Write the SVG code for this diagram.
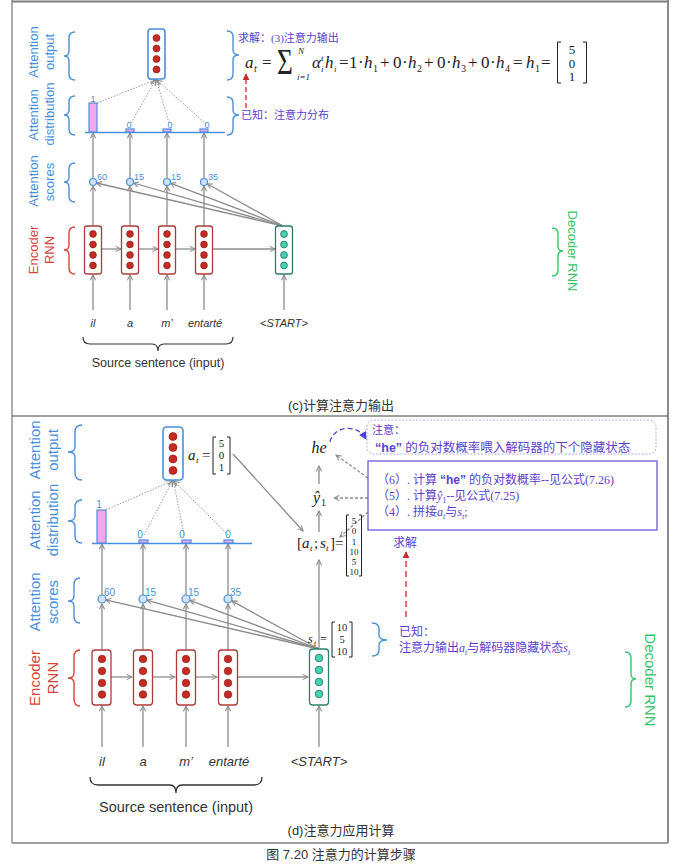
<svg xmlns="http://www.w3.org/2000/svg" width="695" height="865" viewBox="0 0 695 865">
<defs>
<style>
.lbl{font-family:"Liberation Sans","Open Sans",sans-serif;fill:#4a8fdc}
.red{fill:#d8443a}
.grn{fill:#36c46a}
.brB{fill:none;stroke:#4a8fdc;stroke-width:1.4}
.brR{fill:none;stroke:#d8443a;stroke-width:1.4}
.brG{fill:none;stroke:#36c46a;stroke-width:1.4}
.ar{fill:none;stroke:#8c8c8c;stroke-width:1.3;marker-end:url(#ah)}
.dot{fill:none;stroke:#9a9a9a;stroke-width:1;stroke-dasharray:1.5 1.5;marker-end:url(#ah)}
.gd{fill:none;stroke:#8c8c8c;stroke-width:1.3;stroke-dasharray:3 2;marker-end:url(#ah)}
.enc{fill:#fff;stroke:#b03a3a;stroke-width:1.3}
.dec{fill:#fff;stroke:#2e7d6c;stroke-width:1.3}
.outb{fill:#fff;stroke:#4a8fdc;stroke-width:1.6}
.rc{fill:#c62a22;stroke:#7a1a15;stroke-width:0.6}
.tc{fill:#45d0b0;stroke:#1f6e5e;stroke-width:0.8}
.sc{fill:#cfe3fb;stroke:#4a8fdc;stroke-width:1.2}
.num{font-family:"Liberation Sans",sans-serif;fill:#4a8fdc}
.word{font-family:"Liberation Sans","Open Sans",sans-serif;font-style:italic;fill:#333}
.src{font-family:"Liberation Sans","Open Sans",sans-serif;fill:#333}
.math{font-family:"Liberation Serif","DejaVu Serif",serif;fill:#222}
.it{font-style:italic}
.cn{font-family:"Liberation Serif","Noto Sans CJK SC",serif;fill:#5a3fd0}
.cap{font-family:"Liberation Sans","Noto Sans CJK SC",sans-serif;fill:#333}
.bar{fill:#f6a6ee;stroke:#4a8fdc;stroke-width:1.2}
.base{stroke:#4a8fdc;stroke-width:1.6}
.mb{fill:none;stroke:#222;stroke-width:1}
</style>
<marker id="ah" viewBox="0 0 8 8" refX="7" refY="4" markerWidth="7" markerHeight="7" markerUnits="userSpaceOnUse" orient="auto"><path d="M1,1 L7,4 L1,7" fill="none" stroke="#8c8c8c" stroke-width="1.2"/></marker>
<marker id="ahr" viewBox="0 0 8 8" refX="7" refY="4" markerWidth="7" markerHeight="7" markerUnits="userSpaceOnUse" orient="auto"><path d="M0,0 L8,4 L0,8 Z" fill="#d0282a"/></marker>
<marker id="ahp" viewBox="0 0 8 8" refX="7" refY="4" markerWidth="8" markerHeight="8" markerUnits="userSpaceOnUse" orient="auto"><path d="M0,0 L8,4 L0,8 Z" fill="#4a3fe0"/></marker>
</defs>
<rect x="0" y="0" width="695" height="865" fill="#fff"/>

<!-- frames -->
<g id="frames" fill="none" stroke="#7f7f7f">
<line x1="12" y1="1.5" x2="668" y2="1.5" stroke-width="2"/>
<line x1="12" y1="0" x2="12" y2="843" stroke-width="1.3"/>
<line x1="668" y1="0" x2="668" y2="843" stroke-width="1.8"/>
<line x1="12" y1="416" x2="668" y2="416" stroke-width="1.5"/>
<line x1="12" y1="843" x2="668" y2="843" stroke-width="1.5"/>
</g>

<!-- ================= PANEL C ================= -->
<g id="c-labels">
<text class="lbl" font-size="13" text-anchor="middle" transform="translate(38,52) rotate(-90)">Attention</text>
<text class="lbl" font-size="13" text-anchor="middle" transform="translate(54,52) rotate(-90)">output</text>
<text class="lbl" font-size="13" text-anchor="middle" transform="translate(38,115) rotate(-90)">Attention</text>
<text class="lbl" font-size="13" text-anchor="middle" transform="translate(54,114) rotate(-90)">distribution</text>
<text class="lbl" font-size="13" text-anchor="middle" transform="translate(38,181) rotate(-90)">Attention</text>
<text class="lbl" font-size="13" text-anchor="middle" transform="translate(54,182) rotate(-90)">scores</text>
<text class="lbl red" font-size="13" text-anchor="middle" transform="translate(38,250) rotate(-90)">Encoder</text>
<text class="lbl red" font-size="13" text-anchor="middle" transform="translate(54,250) rotate(-90)">RNN</text>
<path class="brB" d="M75,32 Q69,32 69,38 L69,51 Q69,56 64,56 Q69,56 69,61 L69,74 Q69,80 75,80"/>
<path class="brB" d="M75,96 Q69,96 69,102 L69,110 Q69,115 64,115 Q69,115 69,120 L69,129 Q69,135 75,135"/>
<path class="brB" d="M75,163 Q69,163 69,169 L69,177 Q69,182 64,182 Q69,182 69,187 L69,196 Q69,202 75,202"/>
<path class="brR" d="M75,227 Q69,227 69,233 L69,245 Q69,250 64,250 Q69,250 69,255 L69,268 Q69,274 75,274"/>
<path class="brB" d="M227,31 Q233,31 233,37 L233,50 Q233,55 239,55 Q233,55 233,60 L233,74 Q233,80 227,80"/>
<path class="brB" d="M227,97 Q233,97 233,103 L233,110 Q233,115 239,115 Q233,115 233,120 L233,129 Q233,135 227,135"/>
<path class="brG" d="M552,228 Q558,228 558,234 L558,246 Q558,251 563,251 Q558,251 558,256 L558,270 Q558,276 552,276"/>
<text class="lbl grn" font-size="13" text-anchor="middle" transform="translate(568,251) rotate(90)">Decoder RNN</text>
</g>

<g id="c-connectors">
<line class="ar" x1="93" y1="226" x2="93" y2="186"/>
<line class="ar" x1="130" y1="226" x2="130" y2="186"/>
<line class="ar" x1="167" y1="226" x2="167" y2="186"/>
<line class="ar" x1="204" y1="226" x2="204" y2="186"/>
<line class="ar" x1="93" y1="178" x2="93" y2="133"/>
<line class="ar" x1="130" y1="178" x2="130" y2="133"/>
<line class="ar" x1="167" y1="178" x2="167" y2="133"/>
<line class="ar" x1="204" y1="178" x2="204" y2="133"/>
<line class="ar" x1="102" y1="249" x2="121" y2="249"/>
<line class="ar" x1="139" y1="249" x2="158" y2="249"/>
<line class="ar" x1="176" y1="249" x2="195" y2="249"/>
<line class="ar" x1="213" y1="249" x2="275" y2="249"/>
<line class="ar" x1="283" y1="226" x2="96.5" y2="183"/>
<line class="ar" x1="283" y1="226" x2="133.4" y2="183"/>
<line class="ar" x1="283" y1="226" x2="170.3" y2="183.2"/>
<line class="ar" x1="283" y1="226" x2="207.1" y2="183.7"/>
<line class="ar" x1="93" y1="310" x2="93" y2="275"/>
<line class="ar" x1="130" y1="310" x2="130" y2="275"/>
<line class="ar" x1="167" y1="310" x2="167" y2="275"/>
<line class="ar" x1="204" y1="310" x2="204" y2="275"/>
<line class="ar" x1="284" y1="310" x2="284" y2="275"/>
<line class="dot" x1="97" y1="103" x2="155" y2="80"/>
<line class="dot" x1="131" y1="123" x2="155.5" y2="80"/>
<line class="dot" x1="169" y1="123" x2="156.5" y2="80"/>
<line class="dot" x1="206" y1="124" x2="157" y2="80"/>
<line x1="246" y1="108" x2="246" y2="74" stroke="#d0282a" stroke-width="1.3" stroke-dasharray="5 3" marker-end="url(#ahr)"/>
</g>

<g id="c-output">
<rect class="outb" x="148" y="29" width="17" height="50" rx="3"/>
<circle class="rc" cx="156.5" cy="38" r="3.5"/>
<circle class="rc" cx="156.5" cy="48.5" r="3.5"/>
<circle class="rc" cx="156.5" cy="59" r="3.5"/>
<circle class="rc" cx="156.5" cy="69.5" r="3.5"/>
</g>

<g id="c-distribution">
<line class="base" x1="85" y1="132.5" x2="225" y2="132.5"/>
<rect class="bar" x="89" y="103" width="8" height="29"/>
<rect class="bar" x="126" y="129" width="8" height="3"/>
<rect class="bar" x="163" y="129" width="8" height="3"/>
<rect class="bar" x="200" y="129" width="8" height="3"/>
<text class="num" font-size="9" x="93" y="102" text-anchor="middle">1</text>
<text class="num" font-size="9" x="129" y="128" text-anchor="middle">0</text>
<text class="num" font-size="9" x="170" y="128" text-anchor="middle">0</text>
<text class="num" font-size="9" x="207" y="128" text-anchor="middle">0</text>
</g>

<g id="c-scores">
<circle class="sc" cx="93" cy="182" r="3.5"/>
<circle class="sc" cx="130" cy="182" r="3.5"/>
<circle class="sc" cx="167" cy="182" r="3.5"/>
<circle class="sc" cx="204" cy="182" r="3.5"/>
<text class="num" font-size="9" x="97" y="180">60</text>
<text class="num" font-size="9" x="134" y="180">15</text>
<text class="num" font-size="9" x="171" y="180">15</text>
<text class="num" font-size="9" x="208" y="180">35</text>
</g>

<g id="c-encoder">
<rect class="enc" x="84.5" y="226" width="17" height="48" rx="2.5"/>
<rect class="enc" x="121.5" y="226" width="17" height="48" rx="2.5"/>
<rect class="enc" x="158.5" y="226" width="17" height="48" rx="2.5"/>
<rect class="enc" x="195.5" y="226" width="17" height="48" rx="2.5"/>
<g class="rc">
<circle cx="93" cy="234" r="3.4"/><circle cx="93" cy="244.5" r="3.4"/><circle cx="93" cy="255" r="3.4"/><circle cx="93" cy="265.5" r="3.4"/>
<circle cx="130" cy="234" r="3.4"/><circle cx="130" cy="244.5" r="3.4"/><circle cx="130" cy="255" r="3.4"/><circle cx="130" cy="265.5" r="3.4"/>
<circle cx="167" cy="234" r="3.4"/><circle cx="167" cy="244.5" r="3.4"/><circle cx="167" cy="255" r="3.4"/><circle cx="167" cy="265.5" r="3.4"/>
<circle cx="204" cy="234" r="3.4"/><circle cx="204" cy="244.5" r="3.4"/><circle cx="204" cy="255" r="3.4"/><circle cx="204" cy="265.5" r="3.4"/>
</g>
</g>

<g id="c-decoder">
<rect class="dec" x="275.5" y="226" width="17" height="48" rx="2.5"/>
<g class="tc">
<circle cx="284" cy="234" r="3.4"/><circle cx="284" cy="244.5" r="3.4"/><circle cx="284" cy="255" r="3.4"/><circle cx="284" cy="265.5" r="3.4"/>
</g>
</g>

<g id="c-words">
<text class="word" font-size="11" x="93" y="327" text-anchor="middle">il</text>
<text class="word" font-size="11" x="130" y="327" text-anchor="middle">a</text>
<text class="word" font-size="11" x="167" y="327" text-anchor="middle">m’</text>
<text class="word" font-size="11" x="205" y="327" text-anchor="middle">entarté</text>
<text class="word" font-size="11" x="284" y="327" text-anchor="middle">&lt;START&gt;</text>
<path d="M83,337 Q83,344 90,344 L152,344 Q158,344 158,351 Q158,344 164,344 L226,344 Q233,344 233,337" fill="none" stroke="#333" stroke-width="1.2"/>
<text class="src" font-size="12.5" x="158" y="367" text-anchor="middle">Source sentence (input)</text>
</g>

<g id="c-notes">
<text class="cn" font-size="11" x="238" y="42">求解：(3)注意力输出</text>
<text class="cn" font-size="11" x="241" y="119">已知：注意力分布</text>
</g>

<g id="c-formula" class="math">
<text font-size="17" class="it" x="245" y="68">a</text>
<text font-size="10" class="it" x="254" y="72">t</text>
<text font-size="17" x="262" y="68">=</text>
<text font-size="34" transform="translate(277,74) scale(0.8,1.05)">Σ</text>
<text font-size="9" class="it" x="298" y="54">N</text>
<text font-size="9" class="it" x="297" y="80">i=1</text>
<text font-size="17" class="it" x="312" y="68">α</text>
<text font-size="9" class="it" x="321" y="61">t</text>
<text font-size="9" class="it" x="321" y="72">i</text>
<text font-size="17" class="it" x="325" y="68">h</text>
<text font-size="9" class="it" x="334" y="72">i</text>
<text font-size="17" x="339" y="68">=</text>
<text font-size="17" x="349" y="68">1</text>
<text font-size="17" x="358" y="68">·</text>
<text font-size="17" class="it" x="364" y="68">h</text>
<text font-size="10" x="373" y="72">1</text>
<text font-size="17" x="380" y="68">+</text>
<text font-size="17" x="393" y="68">0</text>
<text font-size="17" x="402" y="68">·</text>
<text font-size="17" class="it" x="408" y="68">h</text>
<text font-size="10" x="417" y="72">2</text>
<text font-size="17" x="424" y="68">+</text>
<text font-size="17" x="437" y="68">0</text>
<text font-size="17" x="446" y="68">·</text>
<text font-size="17" class="it" x="452" y="68">h</text>
<text font-size="10" x="461" y="72">3</text>
<text font-size="17" x="468" y="68">+</text>
<text font-size="17" x="481" y="68">0</text>
<text font-size="17" x="490" y="68">·</text>
<text font-size="17" class="it" x="496" y="68">h</text>
<text font-size="10" x="505" y="72">4</text>
<text font-size="17" x="513" y="68">=</text>
<text font-size="17" class="it" x="526" y="68">h</text>
<text font-size="10" x="535" y="72">1</text>
<text font-size="17" x="541" y="68">=</text>
<path class="mb" d="M561,42 L557.5,42 L557.5,83 L561,83 M583,42 L586.5,42 L586.5,83 L583,83"/>
<text font-size="13" x="572" y="54" text-anchor="middle">5</text>
<text font-size="13" x="572" y="68" text-anchor="middle">0</text>
<text font-size="13" x="572" y="81" text-anchor="middle">1</text>
</g>

<text class="cap" font-size="13" x="341" y="410" text-anchor="middle">(c)计算注意力输出</text>

<!-- ================= PANEL D ================= -->
<g id="d-labels">
<text class="lbl" font-size="15" text-anchor="middle" transform="translate(40,450) rotate(-90)">Attention</text>
<text class="lbl" font-size="15" text-anchor="middle" transform="translate(58,450) rotate(-90)">output</text>
<text class="lbl" font-size="15" text-anchor="middle" transform="translate(40,520) rotate(-90)">Attention</text>
<text class="lbl" font-size="15" text-anchor="middle" transform="translate(58,520) rotate(-90)">distribution</text>
<text class="lbl" font-size="15" text-anchor="middle" transform="translate(40,602) rotate(-90)">Attention</text>
<text class="lbl" font-size="15" text-anchor="middle" transform="translate(58,602) rotate(-90)">scores</text>
<text class="lbl red" font-size="15" text-anchor="middle" transform="translate(40,678) rotate(-90)">Encoder</text>
<text class="lbl red" font-size="15" text-anchor="middle" transform="translate(58,678) rotate(-90)">RNN</text>
<path class="brB" d="M82,425 Q75,425 75,432 L75,447 Q75,452 68,452 Q75,452 75,457 L75,473 Q75,480 82,480"/>
<path class="brB" d="M82,500 Q75,500 75,507 L75,516 Q75,521 68,521 Q75,521 75,526 L75,536 Q75,543 82,543"/>
<path class="brB" d="M80,578 Q74,578 74,585 L74,596 Q74,601 68,601 Q74,601 74,606 L74,616 Q74,623 80,623"/>
<path class="brR" d="M80,650 Q74,650 74,657 L74,673 Q74,678 68,678 Q74,678 74,683 L74,699 Q74,706 80,706"/>
<path class="brB" d="M372,623 Q379,623 379,629 L379,635 Q379,640 387,640 Q379,640 379,645 L379,650 Q379,656 372,656"/>
<path class="brG" d="M625,652 Q631,652 631,658 L631,674 Q631,679 636,679 Q631,679 631,684 L631,701 Q631,707 625,707"/>
<text class="lbl grn" font-size="15" text-anchor="middle" transform="translate(645,680) rotate(90)">Decoder RNN</text>
</g>

<g id="d-connectors">
<line class="ar" x1="102" y1="650" x2="102" y2="604"/>
<line class="ar" x1="143" y1="650" x2="143" y2="604"/>
<line class="ar" x1="186" y1="650" x2="186" y2="604"/>
<line class="ar" x1="228" y1="650" x2="228" y2="604"/>
<line class="ar" x1="102" y1="595" x2="102" y2="544"/>
<line class="ar" x1="143" y1="595" x2="143" y2="544"/>
<line class="ar" x1="186" y1="595" x2="186" y2="544"/>
<line class="ar" x1="228" y1="595" x2="228" y2="544"/>
<line class="ar" x1="111" y1="677" x2="132" y2="677"/>
<line class="ar" x1="153" y1="677" x2="175" y2="677"/>
<line class="ar" x1="196" y1="677" x2="217" y2="677"/>
<line class="ar" x1="238" y1="677" x2="308" y2="677"/>
<line class="ar" x1="319" y1="649" x2="105.7" y2="599.9"/>
<line class="ar" x1="319" y1="649" x2="146.8" y2="600.1"/>
<line class="ar" x1="319" y1="649" x2="189.8" y2="600.4"/>
<line class="ar" x1="319" y1="649" x2="231.8" y2="600.9"/>
<line class="ar" x1="102" y1="747" x2="102" y2="706"/>
<line class="ar" x1="143" y1="747" x2="143" y2="706"/>
<line class="ar" x1="186" y1="747" x2="186" y2="706"/>
<line class="ar" x1="228" y1="747" x2="228" y2="706"/>
<line class="ar" x1="319" y1="747" x2="319" y2="706"/>
<line class="dot" x1="106" y1="510" x2="172" y2="481"/>
<line class="dot" x1="144" y1="535" x2="172.5" y2="481"/>
<line class="dot" x1="184" y1="535" x2="173.5" y2="481"/>
<line class="dot" x1="228" y1="535" x2="174" y2="481"/>
<line class="ar" x1="233" y1="454" x2="303" y2="531"/>
<line class="ar" x1="319" y1="648" x2="319" y2="560"/>
<line class="ar" x1="319" y1="532" x2="319" y2="511"/>
<line class="ar" x1="319" y1="484" x2="319" y2="466"/>
<line class="gd" x1="368" y1="478" x2="336" y2="455"/>
<line class="gd" x1="368" y1="498" x2="334" y2="498"/>
<line class="gd" x1="368" y1="512" x2="340" y2="537"/>
<path d="M330,442 C333,427 356,422 366,439" fill="none" stroke="#5a3fe0" stroke-width="1.3" stroke-dasharray="5 3" marker-end="url(#ahp)"/>
<line x1="406" y1="617" x2="406" y2="552" stroke="#d0282a" stroke-width="1.3" stroke-dasharray="6 4" marker-end="url(#ahr)"/>
</g>

<g id="d-output">
<rect class="outb" x="163" y="427" width="20" height="53" rx="3.5"/>
<circle class="rc" cx="173" cy="436.5" r="4"/>
<circle class="rc" cx="173" cy="447.5" r="4"/>
<circle class="rc" cx="173" cy="459" r="4"/>
<circle class="rc" cx="173" cy="470.5" r="4"/>
</g>

<g id="d-at" class="math">
<text font-size="15" class="it" x="188" y="460">a</text>
<text font-size="9" class="it" x="196" y="463">t</text>
<text font-size="15" x="202" y="460">=</text>
<path class="mb" d="M216,437 L213,437 L213,474 L216,474 M227,437 L230,437 L230,474 L227,474"/>
<text font-size="11" x="221.5" y="447" text-anchor="middle">5</text>
<text font-size="11" x="221.5" y="459" text-anchor="middle">0</text>
<text font-size="11" x="221.5" y="471" text-anchor="middle">1</text>
</g>

<g id="d-distribution">
<line class="base" x1="92" y1="543.5" x2="252" y2="543.5"/>
<rect class="bar" x="97" y="510" width="9" height="33"/>
<rect class="bar" x="139" y="540" width="9" height="3"/>
<rect class="bar" x="182" y="540" width="9" height="3"/>
<rect class="bar" x="224" y="540" width="9" height="3"/>
<text class="num" font-size="10" x="99" y="508" text-anchor="middle">1</text>
<text class="num" font-size="10" x="140" y="538" text-anchor="middle">0</text>
<text class="num" font-size="10" x="182" y="538" text-anchor="middle">0</text>
<text class="num" font-size="10" x="228" y="538" text-anchor="middle">0</text>
</g>

<g id="d-scores">
<circle class="sc" cx="102" cy="599" r="4"/>
<circle class="sc" cx="143" cy="599" r="4"/>
<circle class="sc" cx="186" cy="599" r="4"/>
<circle class="sc" cx="228" cy="599" r="4"/>
<text class="num" font-size="10" x="104" y="596">60</text>
<text class="num" font-size="10" x="145" y="596">15</text>
<text class="num" font-size="10" x="188" y="596">15</text>
<text class="num" font-size="10" x="230" y="596">35</text>
</g>

<g id="d-encoder">
<rect class="enc" x="92" y="650" width="19" height="55" rx="3"/>
<rect class="enc" x="133.5" y="650" width="19" height="55" rx="3"/>
<rect class="enc" x="176.5" y="650" width="19" height="55" rx="3"/>
<rect class="enc" x="218.5" y="650" width="19" height="55" rx="3"/>
<g class="rc">
<circle cx="102" cy="659" r="3.8"/><circle cx="102" cy="671" r="3.8"/><circle cx="102" cy="683" r="3.8"/><circle cx="102" cy="694.5" r="3.8"/>
<circle cx="143" cy="659" r="3.8"/><circle cx="143" cy="671" r="3.8"/><circle cx="143" cy="683" r="3.8"/><circle cx="143" cy="694.5" r="3.8"/>
<circle cx="186" cy="659" r="3.8"/><circle cx="186" cy="671" r="3.8"/><circle cx="186" cy="683" r="3.8"/><circle cx="186" cy="694.5" r="3.8"/>
<circle cx="228" cy="659" r="3.8"/><circle cx="228" cy="671" r="3.8"/><circle cx="228" cy="683" r="3.8"/><circle cx="228" cy="694.5" r="3.8"/>
</g>
</g>

<g id="d-decoder">
<rect class="dec" x="309.5" y="649" width="19" height="56" rx="3"/>
<g class="tc">
<circle cx="319" cy="658" r="3.8"/><circle cx="319" cy="670" r="3.8"/><circle cx="319" cy="682" r="3.8"/><circle cx="319" cy="694" r="3.8"/>
</g>
</g>

<g id="d-st" class="math">
<text font-size="12" class="it" x="308" y="643">s</text>
<text font-size="8" class="it" x="314" y="646">t</text>
<text font-size="12" x="320" y="643">=</text>
<path class="mb" d="M335,622 L332,622 L332,657 L335,657 M349,622 L352,622 L352,657 L349,657"/>
<text font-size="10.5" x="342" y="631" text-anchor="middle">10</text>
<text font-size="10.5" x="342" y="643" text-anchor="middle">5</text>
<text font-size="10.5" x="342" y="655" text-anchor="middle">10</text>
</g>

<g id="d-concat" class="math">
<text font-size="15" x="297" y="548">[</text>
<text font-size="15" class="it" x="302" y="548">a</text>
<text font-size="9" class="it" x="310" y="551">t</text>
<text font-size="15" x="314" y="548">;</text>
<text font-size="15" class="it" x="320" y="548">s</text>
<text font-size="9" class="it" x="326" y="551">t</text>
<text font-size="15" x="330" y="548">]=</text>
<path class="mb" d="M349,515 L346.5,515 L346.5,576 L349,576 M359,515 L361.5,515 L361.5,576 L359,576"/>
<text font-size="9" x="354" y="524" text-anchor="middle">5</text>
<text font-size="9" x="354" y="534" text-anchor="middle">0</text>
<text font-size="9" x="354" y="545" text-anchor="middle">1</text>
<text font-size="9" x="354" y="555" text-anchor="middle">10</text>
<text font-size="9" x="354" y="565" text-anchor="middle">5</text>
<text font-size="9" x="354" y="575" text-anchor="middle">10</text>
</g>

<g id="d-yhat" class="math">
<text font-size="16" class="it" x="313" y="503">ŷ</text>
<text font-size="10" x="321" y="506">1</text>
</g>

<g id="d-he" class="math">
<text font-size="16" class="it" x="319" y="453" text-anchor="middle">he</text>
</g>

<g id="d-note">
<rect x="367" y="420" width="289" height="34" rx="7" fill="none" stroke="#b4aaf0" stroke-width="1" stroke-dasharray="2 1.5"/>
<text class="cn" font-size="11" x="372" y="434">注意：</text>
<text class="cn" font-size="12.5" x="375" y="452"><tspan font-family="Liberation Sans,sans-serif" font-weight="bold">“he”</tspan> 的负对数概率喂入解码器的下个隐藏状态</text>
</g>

<g id="d-steps">
<rect x="368" y="461" width="289" height="69" fill="#fff" stroke="#6a5ae0" stroke-width="1.3"/>
<text class="cn" font-size="12" x="377" y="484">（6）. 计算 <tspan font-family="Liberation Sans,sans-serif" font-weight="bold">“he”</tspan> 的负对数概率--见公式(7.26)</text>
<text class="cn" font-size="12" x="377" y="500">（5）. 计算<tspan font-style="italic">ŷ</tspan><tspan font-size="8" dy="3">1</tspan><tspan dy="-3">--见公式(7.25)</tspan></text>
<text class="cn" font-size="12" x="377" y="516">（4）. 拼接<tspan font-style="italic">a</tspan><tspan font-size="8" font-style="italic" dy="3">t</tspan><tspan dy="-3">与</tspan><tspan font-style="italic">s</tspan><tspan font-size="8" font-style="italic" dy="3">t</tspan><tspan dy="-3">;</tspan></text>
</g>

<g id="d-solve">
<text class="cn" font-size="12" x="393" y="547">求解</text>
<text class="cn" font-size="12" x="399" y="636">已知：</text>
<text class="cn" font-size="12" x="399" y="652">注意力输出<tspan font-style="italic">a</tspan><tspan font-size="8" font-style="italic" dy="3">t</tspan><tspan dy="-3">与解码器隐藏状态</tspan><tspan font-style="italic">s</tspan><tspan font-size="8" font-style="italic" dy="3">t</tspan></text>
</g>

<g id="d-words">
<text class="word" font-size="13" x="102" y="766" text-anchor="middle">il</text>
<text class="word" font-size="13" x="143" y="766" text-anchor="middle">a</text>
<text class="word" font-size="13" x="186" y="766" text-anchor="middle">m’</text>
<text class="word" font-size="13" x="229" y="766" text-anchor="middle">entarté</text>
<text class="word" font-size="13" x="319" y="766" text-anchor="middle">&lt;START&gt;</text>
<path d="M90,777 Q90,785 98,785 L170,785 Q176,785 176,793 Q176,785 182,785 L254,785 Q262,785 262,777" fill="none" stroke="#333" stroke-width="1.3"/>
<text class="src" font-size="14.5" x="176" y="812" text-anchor="middle">Source sentence (input)</text>
</g>

<text class="cap" font-size="13" x="341" y="835" text-anchor="middle">(d)注意力应用计算</text>
<text class="cap" font-size="13" x="341" y="859" text-anchor="middle">图 7.20  注意力的计算步骤</text>
</svg>
